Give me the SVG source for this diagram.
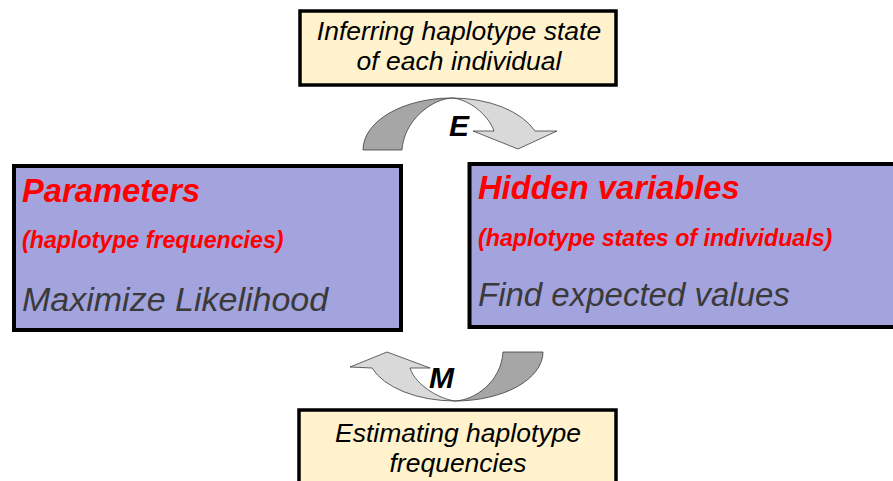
<svg xmlns="http://www.w3.org/2000/svg" width="893" height="481" viewBox="0 0 893 481">
  <style>
    .note { fill: #fff2cc; stroke: #000; stroke-width: 3.5; }
    .panel { fill: #a3a3de; stroke: #000; stroke-width: 4; }
    .note-text { font-family: "Liberation Sans", Arial, sans-serif; font-style: italic; font-size: 26.5px; fill: #000; text-anchor: middle; }
    .title { font-family: "Liberation Sans", Arial, sans-serif; font-style: italic; font-weight: bold; font-size: 32.7px; fill: #ff0000; }
    .sub { font-family: "Liberation Sans", Arial, sans-serif; font-style: italic; font-weight: bold; font-size: 23.2px; fill: #ff0000; }
    .body { font-family: "Liberation Sans", Arial, sans-serif; font-style: italic; font-size: 33px; fill: #3a3a3a; }
    .back { fill: #a6a6a6; stroke: #3c3c3c; stroke-width: 0.8; stroke-linejoin: round; }
    .front { fill: #d9d9d9; stroke: #3c3c3c; stroke-width: 0.8; stroke-linejoin: round; }
    .step { font-family: "Liberation Sans", Arial, sans-serif; font-style: italic; font-weight: bold; font-size: 30px; fill: #000; }
  </style>

  <!-- E-step note -->
  <g id="e-note">
    <rect class="note" x="300" y="11" width="316" height="74"/>
    <text class="note-text" x="459" y="40">Inferring haplotype state</text>
    <text class="note-text" x="459" y="70">of each individual</text>
  </g>

  <!-- Parameters panel -->
  <g id="parameters">
    <rect class="panel" x="14" y="166" width="387" height="164"/>
    <text class="title" x="22" y="202">Parameters</text>
    <text class="sub" x="22" y="248">(haplotype frequencies)</text>
    <text class="body" x="22" y="311" style="font-size:34px">Maximize Likelihood</text>
  </g>

  <!-- Hidden variables panel -->
  <g id="hidden-variables">
    <rect class="panel" x="469.5" y="164" width="440" height="163"/>
    <text class="title" x="478" y="199">Hidden variables</text>
    <text class="sub" x="478" y="246">(haplotype states of individuals)</text>
    <text class="body" x="478" y="306">Find expected values</text>
  </g>

  <!-- M-step note -->
  <g id="m-note">
    <rect class="note" x="299" y="410" width="317" height="80"/>
    <text class="note-text" x="458" y="442">Estimating haplotype</text>
    <text class="note-text" x="458" y="472">frequencies</text>
  </g>

  <!-- Curved E / M arrows -->
  <g id="connectors">
    <g id="e-arrow">
      <path class="back" d="M363,150 A89,52 0 0 1 452,98 C432,99 404,120 402,150 Z"/>
      <path class="front" d="M452,98 A89,52 0 0 1 535,131 L557,131 L518,149 L473,131 L494,131 C488,114 468,99 452,98 Z"/>
      <text class="step" x="449" y="136">E</text>
    </g>
    <g id="m-arrow">
      <path class="back" d="M503,352 L543,352 A88,49 0 0 1 455,401 C475,400 501,382 503,352 Z"/>
      <path class="front" d="M455,401 A88,49 0 0 1 372,368 L350,367 L387,352 L430,368 L410,368 C416,386 440,399 455,401 Z"/>
      <text class="step" x="429" y="388">M</text>
    </g>
  </g>
</svg>
